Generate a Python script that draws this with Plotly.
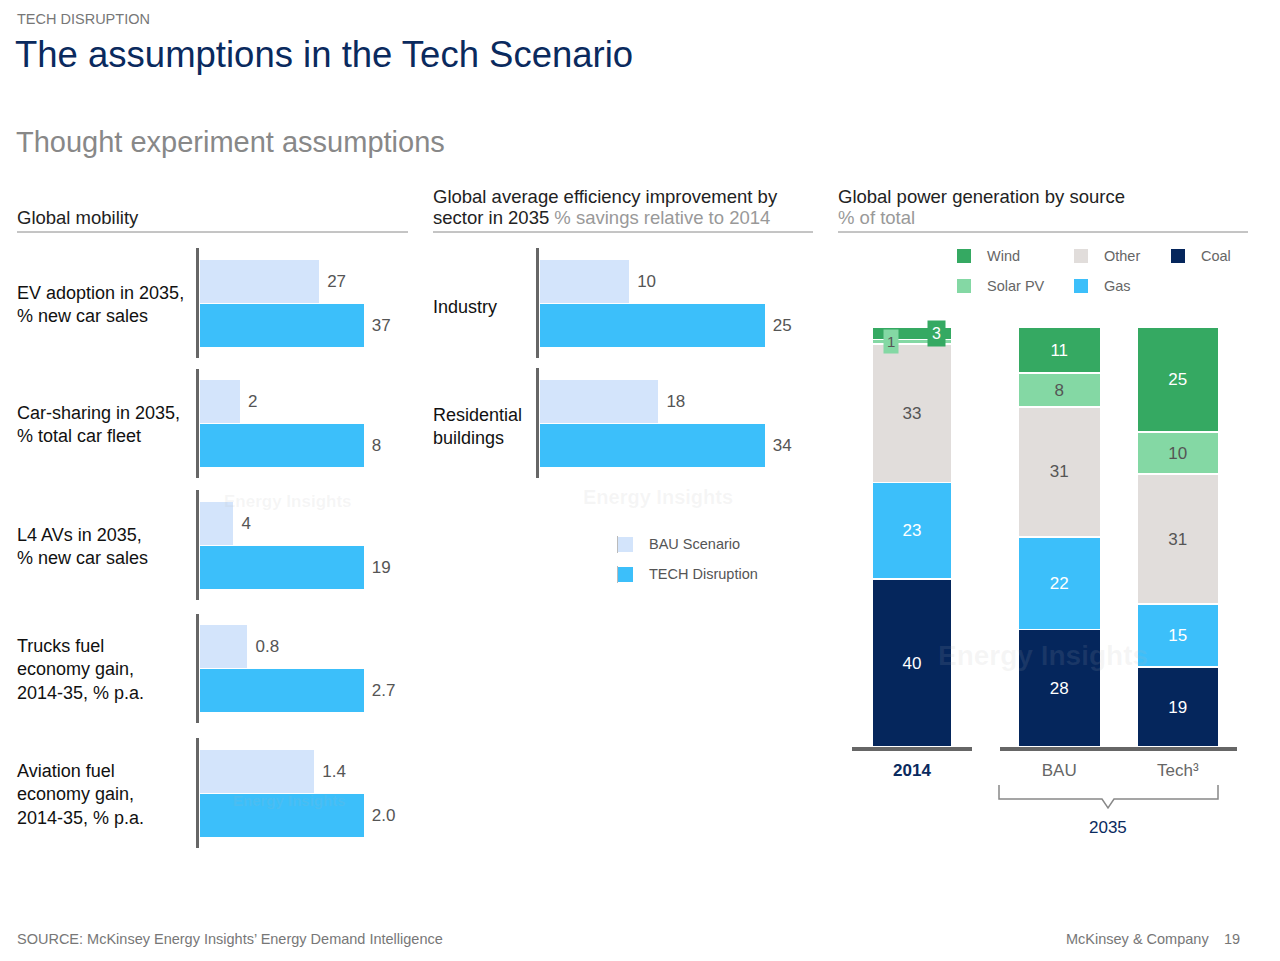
import plotly.graph_objects as go

W, H = 1280, 961


def fx(p):
    return p / W


def fy(p):
    return 1 - p / H


# ---------------- data ----------------
scenarios = ["BAU Scenario", "TECH Disruption"]

mob_labels = [
    "EV adoption in 2035,<br>% new car sales",
    "Car-sharing in 2035,<br>% total car fleet",
    "L4 AVs in 2035,<br>% new car sales",
    "Trucks fuel<br>economy gain,<br>2014-35, % p.a.",
    "Aviation fuel<br>economy gain,<br>2014-35, % p.a.",
]
mob_bau = [27, 2, 4, 0.8, 1.4]
mob_tech = [37, 8, 19, 2.7, 2.0]
mob_bau_txt = ["27", "2", "4", "0.8", "1.4"]
mob_tech_txt = ["37", "8", "19", "2.7", "2.0"]

eff_labels = ["Industry", "Residential<br>buildings"]
eff_bau = [10, 18]
eff_tech = [25, 34]
eff_bau_txt = ["10", "18"]
eff_tech_txt = ["25", "34"]

power_cols = ["2014", "BAU", "Tech³"]
power_sources = ["Coal", "Gas", "Other", "Solar PV", "Wind"]
coal = [40, 28, 19]
gas = [23, 22, 15]
other = [33, 31, 31]
solar = [1, 8, 10]
wind = [3, 11, 25]
power_vals = [coal, gas, other, solar, wind]

# ---------------- style ----------------
FONT = "Liberation Sans, Arial, sans-serif"
C_BAU = "#d3e4fb"
C_TECH = "#3cbffa"
SRC_COL = {"Coal": "#05265c", "Gas": "#3cbffa", "Other": "#e1dddb",
           "Solar PV": "#84d8a4", "Wind": "#35a962"}
SRC_TXT = {"Coal": "white", "Gas": "white", "Other": "#555555",
           "Solar PV": "#555555", "Wind": "white"}
NAVY = "#0a2a5e"

fig = go.Figure()
layout = {}
annotations = []
shapes = []


def axnames(k):
    return ("x" if k == 1 else f"x{k}", "y" if k == 1 else f"y{k}",
            "xaxis" if k == 1 else f"xaxis{k}", "yaxis" if k == 1 else f"yaxis{k}")


def hbar_panel(k, bau, tech, bau_t, tech_t, x0, x1, y0, y1, end_px):
    xa, ya, xn, yn = axnames(k)
    for name, val, txt_, col in [(scenarios[0], bau, bau_t, C_BAU),
                                 (scenarios[1], tech, tech_t, C_TECH)]:
        fig.add_trace(go.Bar(
            x=[val], y=[name], orientation="h", width=1,
            marker=dict(color=col, line=dict(color="white", width=1)),
            text=["\u00a0" + txt_], textposition="outside", cliponaxis=False,
            textfont=dict(size=17, color="#555555", family=FONT),
            xaxis=xa, yaxis=ya, showlegend=False, hoverinfo="skip"))
    layout[xn] = dict(domain=[fx(x0), fx(x1)],
                      range=[0, tech * (x1 - x0) / (end_px - x0)],
                      visible=False, anchor=ya)
    layout[yn] = dict(domain=[fy(y1), fy(y0)], range=[-0.75, 1.75],
                      type="category", categoryorder="array",
                      categoryarray=[scenarios[1], scenarios[0]],
                      showline=True, linecolor="#666666", linewidth=3,
                      showticklabels=False, showgrid=False, zeroline=False,
                      ticks="", anchor=xa)


# left panel: global mobility
mob_rows = [(248, 358), (369, 478), (490, 600), (614, 723), (738, 848)]
for i, (y0, y1) in enumerate(mob_rows):
    hbar_panel(i + 1, mob_bau[i], mob_tech[i], mob_bau_txt[i], mob_tech_txt[i],
               199, 400, y0, y1, 364)
    annotations.append(dict(text=mob_labels[i], x=fx(15), y=fy((y0 + y1) / 2 + 1),
                            xref="paper", yref="paper", xanchor="left",
                            yanchor="middle", showarrow=False, align="left",
                            font=dict(size=18, color="#111111", family=FONT)))

# middle panel: efficiency
eff_rows = [(248, 358), (368, 478)]
for i, (y0, y1) in enumerate(eff_rows):
    hbar_panel(6 + i, eff_bau[i], eff_tech[i], eff_bau_txt[i], eff_tech_txt[i],
               539, 800, y0, y1, 765)
    annotations.append(dict(text=eff_labels[i], x=fx(431),
                            y=fy((y0 + y1) / 2 + (4 if i == 0 else 3)),
                            xref="paper", yref="paper", xanchor="left",
                            yanchor="middle", showarrow=False, align="left",
                            font=dict(size=18, color="#111111", family=FONT)))

# right panel: power generation, stacked
pw_specs = [(8, slice(0, 1), 852, 972, 80 / 120, [-0.5, 0.5]),
            (9, slice(1, 3), 1000, 1237, 82 / 118.5, [-0.5, 1.5])]
for k, sl, x0, x1, bw, rng in pw_specs:
    xa, ya, xn, yn = axnames(k)
    cats = power_cols[sl]
    for src, vals in zip(power_sources, power_vals):
        v = vals[sl]
        fig.add_trace(go.Bar(
            x=cats, y=v, width=bw,
            marker=dict(color=SRC_COL[src], line=dict(color="white", width=1.5)),
            text=[str(t) if t >= 5 else "" for t in v],
            textposition="inside", insidetextanchor="middle", textangle=0,
            textfont=dict(size=17, color=SRC_TXT[src], family=FONT),
            xaxis=xa, yaxis=ya, showlegend=False, hoverinfo="skip"))
    is2014 = (k == 8)
    layout[xn] = dict(domain=[fx(x0), fx(x1)], range=rng, type="category",
                      categoryorder="array", categoryarray=cats,
                      tickvals=cats,
                      ticktext=[f"<b>{c}</b>" if is2014 else c for c in cats],
                      showline=True, linecolor="#666666", linewidth=4,
                      ticks="", ticklabelstandoff=5, showgrid=False,
                      zeroline=False, anchor=ya,
                      tickfont=dict(size=17, family=FONT,
                                    color=NAVY if is2014 else "#666666"))
    layout[yn] = dict(domain=[fy(747), fy(327)], range=[0, 100], visible=False,
                      anchor=xa)

# callouts for the small 2014 segments
cum = 0
for src, vals in zip(power_sources, power_vals):
    v = vals[0]
    if v < 5:
        small = (src == "Solar PV")
        annotations.append(dict(
            text=str(v), x=0, y=cum + v / 2, xref="x8", yref="y8",
            xshift=-21 if small else 24,
            showarrow=False, bgcolor=SRC_COL[src], borderpad=3 if small else 4,
            font=dict(size=15 if small else 16, color=SRC_TXT[src], family=FONT)))
    cum += v


# ---------------- text ----------------
def txt(s, x, y, size, color, anchor="left", yanchor="middle", **kw):
    dx = -2 if anchor == "left" else (2 if anchor == "right" else 0)
    annotations.append(dict(text=s, x=fx(x + dx), y=fy(y), xref="paper", yref="paper",
                            xanchor=anchor, yanchor=yanchor, showarrow=False,
                            align=anchor if anchor != "center" else "center",
                            font=dict(size=size, color=color, family=FONT), **kw))


txt("TECH DISRUPTION", 17, 19, 14.5, "#777777")
txt("The assumptions in the Tech Scenario", 15, 55, 36.5, NAVY)
txt("Thought experiment assumptions", 16, 142, 29, "#888888")

txt("Global mobility", 17, 218, 18.5, "#222222")
txt("Global average efficiency improvement by", 433, 196, 18.5, "#222222")
txt("sector in 2035 <span style='color:#999999'>% savings relative to 2014</span>",
    433, 218, 18.5, "#222222")
txt("Global power generation by source", 838, 196, 18.5, "#222222")
txt("% of total", 838, 218, 18.5, "#999999")

for a, b in [(17, 408), (433, 813), (838, 1248)]:
    shapes.append(dict(type="line", xref="paper", yref="paper",
                       x0=fx(a), x1=fx(b), y0=fy(232), y1=fy(232),
                       line=dict(color="#8a8a8a", width=1)))

# middle legend
for i, (name, col) in enumerate([(scenarios[0], C_BAU), (scenarios[1], C_TECH)]):
    yc = 544 + 30 * i
    shapes.append(dict(type="rect", xref="paper", yref="paper",
                       x0=fx(618), x1=fx(633), y0=fy(yc - 7), y1=fy(yc + 8),
                       fillcolor=col, line=dict(width=0)))
    shapes.append(dict(type="line", xref="paper", yref="paper",
                       x0=fx(617.5), x1=fx(617.5), y0=fy(yc - 8), y1=fy(yc + 9),
                       line=dict(color="#bbbbbb", width=1)))
    txt(name, 649, yc, 14.5, "#555555")

# right legend
leg_pos = {"Wind": (957, 256), "Other": (1074, 256), "Coal": (1171, 256),
           "Solar PV": (957, 286), "Gas": (1074, 286)}
for src in ["Wind", "Other", "Coal", "Solar PV", "Gas"]:
    lx, ly = leg_pos[src]
    shapes.append(dict(type="rect", xref="paper", yref="paper",
                       x0=fx(lx), x1=fx(lx + 14), y0=fy(ly - 7), y1=fy(ly + 7),
                       fillcolor=SRC_COL[src], line=dict(width=0)))
    txt(src, lx + 30, ly, 14.5, "#666666")

# bracket for 2035
bx = [999, 999, 1102, 1108, 1114, 1218, 1218]
by = [785, 799, 799, 808, 799, 799, 785]
path = "M " + " L ".join(f"{fx(a)},{fy(b)}" for a, b in zip(bx, by))
shapes.append(dict(type="path", xref="paper", yref="paper", path=path,
                   line=dict(color="#888888", width=1.5)))
txt("2035", 1108, 827, 17, NAVY, anchor="center")

# watermarks
for s, x, y, size in [("Energy Insights", 288, 501, 17), ("Energy Insights", 658, 497, 20),
                      ("Energy Insights", 1043, 655, 28), ("Energy Insights", 289, 800, 15)]:
    txt(f"<b>{s}</b>", x, y, size, "rgba(180,180,180,0.12)", anchor="center")

# footer
txt("SOURCE: McKinsey Energy Insights’ Energy Demand Intelligence", 17, 939, 14.5, "#777777")
txt("McKinsey & Company", 1209, 939, 14.5, "#777777", anchor="right")
txt("19", 1240, 939, 14.5, "#777777", anchor="right")

fig.update_layout(
    width=W, height=H, margin=dict(l=0, r=0, t=0, b=0),
    paper_bgcolor="white", plot_bgcolor="rgba(0,0,0,0)",
    barmode="stack", showlegend=False,
    font=dict(family=FONT),
    annotations=annotations, shapes=shapes, **layout)

fig.write_html("out.html", config={"displayModeBar": False},
               post_script="document.body.style.margin='0';document.body.style.overflow='hidden';")
